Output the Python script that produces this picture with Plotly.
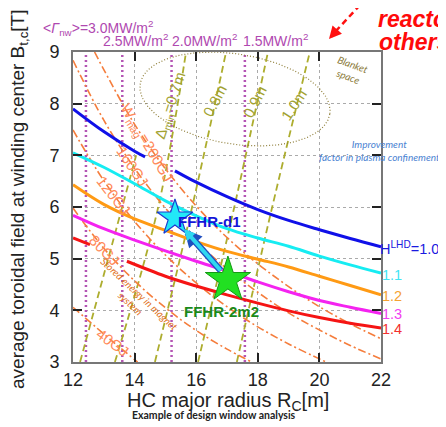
import plotly.graph_objects as go
import numpy as np

# ---------------- data ----------------
x_ticks = [12, 14, 16, 18, 20, 22]
y_ticks = [3, 4, 5, 6, 7, 8, 9]

# improvement factor curves H^LHD (B vs R)
h10_R = [12, 13, 14, 14.34, None, 15.31, 16, 17, 18, 19, 20, 21, 22]
h10_B = [7.90, 7.46, 7.08, 6.97, None, 6.70, 6.48, 6.20, 5.95, 5.74, 5.56, 5.39, 5.23]
h11_R = [12, 13, 14, 15, 16, 17, 18, 19, 20, 21, 22]
h11_B = [7.05, 6.77, 6.45, 6.12, 5.83, 5.58, 5.40, 5.24, 5.05, 4.88, 4.72]
h12_R = [12, 13, 14, 15, 16, 17, 18, 19, 20, 21, 22]
h12_B = [6.43, 6.05, 5.77, 5.55, 5.33, 5.14, 4.99, 4.84, 4.66, 4.48, 4.30]
h13_R = [12, 13, 14, 15, 16, 17, 18, 19, 20, 21, 22]
h13_B = [5.84, 5.58, 5.36, 5.15, 4.95, 4.76, 4.55, 4.36, 4.19, 4.06, 3.94]
h14_R = [12, 12.55, None, 13.75, 15, 16, 17, 18, 19, 20, 21, 22]
h14_B = [5.40, 5.27, None, 4.95, 4.66, 4.47, 4.30, 4.14, 3.99, 3.86, 3.75, 3.66]
h_labels = ["H<sup>LHD</sup>=1.0", "1.1", "1.2", "1.3", "1.4"]

# stored magnetic energy contours W_mag
w40_R = [12.0, 13.3, 14.1]
w40_B = [4.06, 3.39, 3.0]
w80_R = [12, 13, 14, 15, 16, 17, 17.8]
w80_B = [5.98, 5.20, 4.57, 4.05, 3.61, 3.25, 3.0]
w120_R = [12, 13, 14, 15, 16, 17, 18, 19, 20, 20.22]
w120_B = [7.49, 6.51, 5.72, 5.07, 4.53, 4.07, 3.68, 3.35, 3.06, 3.0]
w160_R = [12, 13, 14, 15, 16, 17, 18, 19, 20, 21, 22]
w160_B = [8.84, 7.68, 6.75, 5.98, 5.34, 4.80, 4.35, 3.95, 3.62, 3.32, 3.06]
w200_R = [12.7, 13, 14, 15, 16, 17, 18, 19, 20, 21, 22]
w200_B = [9.0, 8.66, 7.60, 6.74, 6.02, 5.41, 4.90, 4.46, 4.07, 3.74, 3.45]
w_labels = ["40GJ", "80GJ", "120GJ", "160GJ", "W<sub>mag</sub>=200GJ"]

# minimum gap contours Delta_min
d06_R = [12.23, 13.53, 14.05]
d06_B = [3.0, 5.85, 7.0]
d07_R = [13.36, 14.76, 15.67]
d07_B = [3.0, 5.98, 9.0]
d08_R = [14.66, 15.86, 16.97]
d08_B = [3.0, 5.98, 9.0]
d09_R = [16.06, 17.23, 18.33]
d09_B = [3.0, 5.98, 9.0]
d10_R = [17.32, 18.46, 19.69]
d10_B = [3.0, 5.98, 9.0]
d_labels = ["\u0394<sub>min</sub>=0.7m", "0.8m", "0.9m", "1.0m"]

# neutron wall load lines
gamma_R = [12.42, 13.6, 15.2, 17.58]
gamma_labels = ["&lt;<i>\u0393</i><sub>nw</sub>&gt;=3.0MW/m<sup>2</sup>",
                "2.5MW/m<sup>2</sup>", "2.0MW/m<sup>2</sup>", "1.5MW/m<sup>2</sup>"]

# design points
d1_R, d1_B = 15.31, 5.79
m2_R, m2_B = 17.03, 4.59

# ---------------- layout helpers ----------------
W, Hh = 446, 427
L, R_, T, B_ = 65, 73, 44, 73
pw, ph = W - L - R_, Hh - T - B_
x0, x1, y0, y1 = 12, 22, 3, 9


def X(px):
    return x0 + (px - L) / pw * (x1 - x0)


def Y(py):
    return y1 - (py - T) / ph * (y1 - y0)


def PX(px):
    return (px - L) / pw


def PY(py):
    return (T + ph - py) / ph


fig = go.Figure()

# wall-load vertical lines
for r in gamma_R:
    fig.add_trace(go.Scatter(x=[r, r], y=[3, 9], mode="lines",
                             line=dict(color="#b455b4", width=2.5, dash="2px,3px"),
                             hoverinfo="skip", showlegend=False))

# Delta_min contours
olive = "#adad2e"
for rr, bb in [(d06_R, d06_B), (d07_R, d07_B), (d08_R, d08_B), (d09_R, d09_B), (d10_R, d10_B)]:
    fig.add_trace(go.Scatter(x=rr, y=bb, mode="lines", line_shape="spline",
                             line=dict(color=olive, width=1.8, dash="7px,4px"),
                             hoverinfo="skip", showlegend=False))

# W_mag contours
wcol = "#f57d3c"
for rr, bb in [(w40_R, w40_B), (w80_R, w80_B), (w120_R, w120_B), (w160_R, w160_B), (w200_R, w200_B)]:
    fig.add_trace(go.Scatter(x=rr, y=bb, mode="lines", line_shape="spline",
                             line=dict(color=wcol, width=1.6, dash="8px,3px,2px,3px"),
                             hoverinfo="skip", showlegend=False))

# blanket space ellipse (pixel based parameters)
ecx, ecy, ea, eb, eth = 227, 91, 96, 45, np.deg2rad(9)
t = np.linspace(0, 2 * np.pi, 200)
ex = ecx + ea * np.cos(eth) * np.cos(t) - eb * np.sin(eth) * np.sin(t)
ey = ecy + ea * np.sin(eth) * np.cos(t) + eb * np.cos(eth) * np.sin(t)
fig.add_trace(go.Scatter(x=X(ex), y=Y(ey), mode="lines",
                         line=dict(color="#8f7f3a", width=1.2, dash="1px,2px"),
                         hoverinfo="skip", showlegend=False))

# H curves
h_cols = ["#1010e8", "#16ecf2", "#ff9a14", "#f423f0", "#f51414"]
for (rr, bb), c in zip([(h10_R, h10_B), (h11_R, h11_B), (h12_R, h12_B), (h13_R, h13_B), (h14_R, h14_B)], h_cols):
    fig.add_trace(go.Scatter(x=rr, y=bb, mode="lines", line_shape="spline",
                             line=dict(color=c, width=3), connectgaps=False,
                             hoverinfo="skip", showlegend=False))

ann = []
# arrow from FFHR-2m2 to FFHR-d1
for wdt, col in [(6.5, "#2050c0"), (4, "#30d8f0")]:
    ann.append(dict(x=X(176), y=Y(221), ax=X(214), ay=Y(264), xref="x", yref="y",
                    axref="x", ayref="y", text="", showarrow=True, arrowhead=2,
                    arrowsize=0.55, arrowwidth=wdt, arrowcolor=col))

# stars
fig.add_trace(go.Scatter(x=[m2_R], y=[m2_B], mode="markers",
                         marker=dict(symbol="star", size=34, color="#22e022",
                                     line=dict(color="#139a13", width=1)),
                         hoverinfo="skip", showlegend=False))
fig.add_trace(go.Scatter(x=[d1_R], y=[d1_B], mode="markers",
                         marker=dict(symbol="star", size=27, color="#22e8f8",
                                     line=dict(color="#1c3cd0", width=1.2)),
                         hoverinfo="skip", showlegend=False))


def txt(px, py, s, size, color, angle=0, xanchor="center", family="Liberation Sans", **kw):
    ann.append(dict(x=PX(px), y=PY(py), xref="paper", yref="paper", text=s, showarrow=False,
                    textangle=angle, xanchor=xanchor, yanchor="middle",
                    font=dict(size=size, color=color, family=family), **kw))


# W labels
wl = "#ff8a5a"
for (px, py, ang), s in zip([(105, 334, 36), (97, 242, 45), (106, 187, 52), (125, 158, 56), (139, 135, 59)], w_labels):
    txt(px, py, s, 15, wl, ang)
# Delta labels
for (px, py, ang), s in zip([(162, 98, -72), (206, 93, -62), (246, 94, -63), (285, 97, -57)], d_labels):
    txt(px, py, s, 15, "#a2a232", ang)
# wall load labels
for (px, py), s in zip([(90, 20), (127, 32), (196, 32), (267, 32)], gamma_labels):
    txt(px, py, s, 14, "#b048b0")
# H labels
for (px, py), s, c in zip([(370, 240), (372, 267), (372, 288), (372, 306), (372, 321)], h_labels,
                          ["#1a1ae0", "#40e4f4", "#f5a232", "#f040f0", "#f23030"]):
    txt(px, py, s, 14.5, c, xanchor="left")
# design point labels
txt(168, 213, "<b>FFHR-d1</b>", 15, "#1515d8", xanchor="left")
txt(174, 303, "<b>FFHR-2m2</b>", 15, "#1a8a1a", xanchor="left")
# notes
txt(343, 62, "<i>Blanket<br>space</i>", 10, "#8b7a3a", 20, family="Lato")
txt(371, 142, "<i>Improvement<br>factor in plasma confinement</i>", 10, "#4a82d2", family="Lato")
txt(127, 290, "<i>Stored energy in magnet<br>system</i>", 10, "#e0701a", 43, family="Lato")
# axis titles and caption
txt(11, 192, "average toroidal field at winding center B<sub>t,c</sub>[T]", 19, "#222", -90)
txt(220, 393, "HC major radius R<sub>C</sub>[m]", 20, "#222")
txt(207, 406, "<b>Example of design window analysis</b><sup>*</sup>", 10.5, "#222", family="Lato")
# red cut text
txt(368, 11, "<b><i>reactor</i></b>", 23, "#ff0a0a", xanchor="left")
txt(369, 34, "<b><i>others</i></b>", 23, "#ff0a0a", xanchor="left")
# red dashed arrow head (pixel offset tail)
ann.append(dict(x=PX(321), y=PY(31), ax=7, ay=-8, xref="paper", yref="paper",
                text="", showarrow=True, arrowhead=2, arrowsize=1, arrowwidth=2.5, arrowcolor="#ff1010"))

fig.add_shape(type="line", xref="paper", yref="paper", x0=PX(352), y0=PY(-3), x1=PX(327), y1=PY(24),
              line=dict(color="#ff1010", width=2.5, dash="6px,4px"))

fig.update_layout(
    width=W, height=Hh, margin=dict(l=L, r=R_, t=T, b=B_),
    paper_bgcolor="white", plot_bgcolor="white",
    annotations=ann, showlegend=False,
    xaxis=dict(range=[x0, x1], tickvals=x_ticks, ticks="inside", ticklen=9, tickwidth=1.5,
               tickcolor="#222", mirror="ticks", showline=True, linecolor="#777", linewidth=2,
               showgrid=True, gridcolor="#aaa", griddash="dot", gridwidth=1,
               tickfont=dict(size=18, color="#222", family="Liberation Sans"), ticklabelstandoff=0,
               zeroline=False),
    yaxis=dict(range=[y0, y1], tickvals=y_ticks, ticks="inside", ticklen=9, tickwidth=1.5,
               tickcolor="#222", mirror="ticks", showline=True, linecolor="#777", linewidth=2,
               showgrid=True, gridcolor="#aaa", griddash="dot", gridwidth=1,
               tickfont=dict(size=18, color="#222", family="Liberation Sans"), ticklabelstandoff=8,
               zeroline=False),
)
fig.write_html("out.html")
